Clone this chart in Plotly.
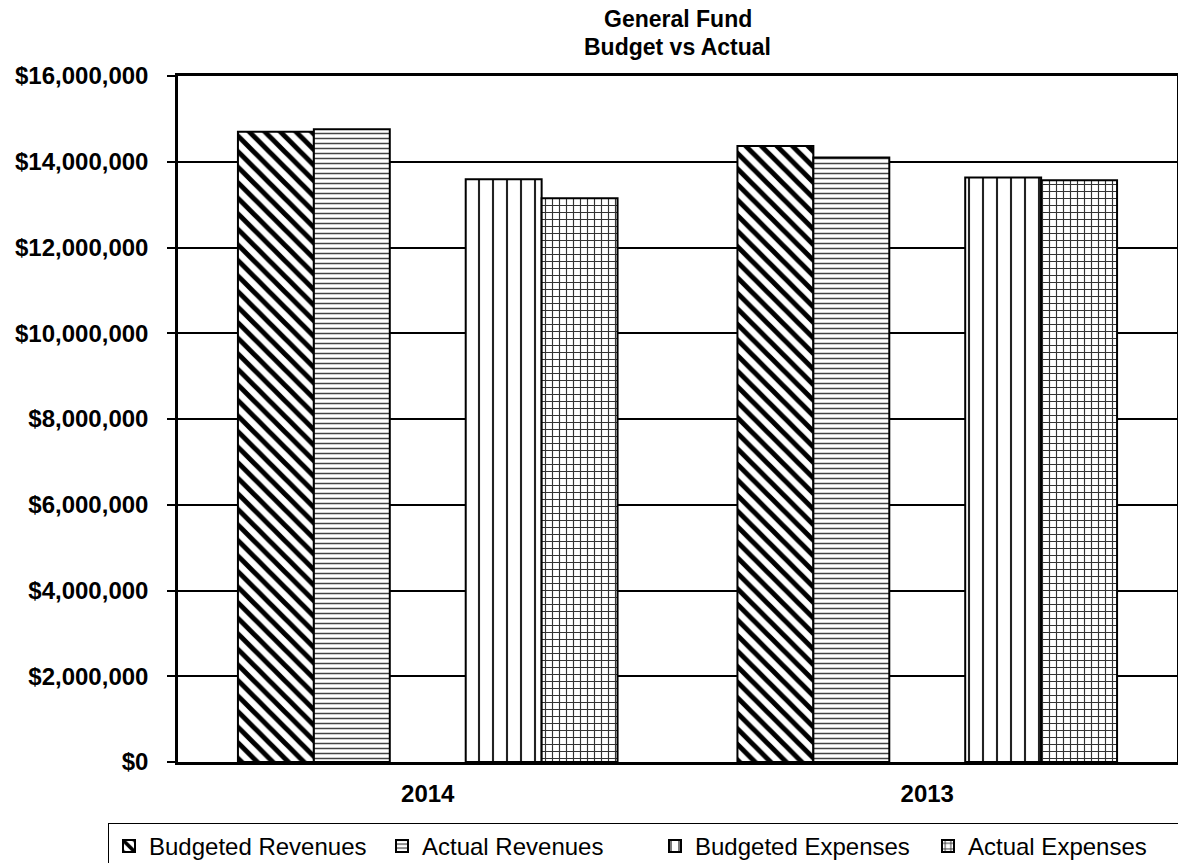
import plotly.graph_objects as go

years = ["2014", "2013"]
budgeted_revenues = [14700000, 14370000]
actual_revenues = [14760000, 14100000]
budgeted_expenses = [13590000, 13630000]
actual_expenses = [13150000, 13570000]
title_lines = ["General Fund", "Budget vs Actual"]

W, H = 1178, 863
L, R, T, B = 178, 1, 76, 101
PW = W - L - R
PH = H - T - B

series = [
    ("Budgeted Revenues", budgeted_revenues, dict(shape="\\", size=11, solidity=0.45, fgcolor="black", bgcolor="white", fillmode="replace")),
    ("Actual Revenues", actual_revenues, dict(shape="-", size=5, solidity=0.3, fgcolor="#444444", bgcolor="white", fillmode="replace")),
    ("", [None, None], None),
    ("Budgeted Expenses", budgeted_expenses, dict(shape="|", size=14, solidity=0.15, fgcolor="#222222", bgcolor="white", fillmode="replace")),
    ("Actual Expenses", actual_expenses, dict(shape="+", size=7, solidity=0.3, fgcolor="#333333", bgcolor="white", fillmode="replace")),
]

fig = go.Figure()
for name, vals, pat in series:
    if pat is None:
        fig.add_trace(go.Bar(x=years, y=vals, name="blank", showlegend=False,
                             marker=dict(color="white", line=dict(width=0)), hoverinfo="skip"))
    else:
        fig.add_trace(go.Bar(x=years, y=vals, name=name,
                             marker=dict(color="white", pattern=pat,
                                         line=dict(color="black", width=2))))

def py(pix):
    return (T + PH - pix) / PH

for txt, ypix in zip(title_lines, [19, 47]):
    fig.add_annotation(text=f"<b>{txt}</b>", xref="paper", yref="paper",
                       x=0.5, y=py(ypix), xanchor="center", yanchor="middle",
                       showarrow=False, font=dict(size=23, color="black"))

fig.update_layout(
    width=W, height=H,
    margin=dict(l=L, r=R, t=T, b=B, autoexpand=False),
    paper_bgcolor="white", plot_bgcolor="white",
    barmode="group", bargap=0.24, bargroupgap=0,
    font=dict(family="Liberation Sans, Arial, sans-serif", color="black"),
    legend=dict(orientation="h", x=(108 - L) / PW, xanchor="left",
                y=py(823), yanchor="top",
                bordercolor="black", borderwidth=1,
                entrywidth=228, entrywidthmode="pixels",
                font=dict(size=24, color="black"), traceorder="normal"),
    xaxis=dict(showline=True, linecolor="black", linewidth=3, mirror=True,
               ticks="", tickfont=dict(size=24, color="black", weight="bold"),
               ticklabelstandoff=8),
    yaxis=dict(range=[0, 16000000], dtick=2000000, tickformat="$,.0f",
               showgrid=True, gridcolor="black", gridwidth=1.5,
               showline=True, linecolor="black", linewidth=2.5, mirror=True,
               ticks="outside", ticklen=8, tickcolor="black", tickwidth=1.5,
               tickfont=dict(size=24, color="black", weight="bold"),
               ticklabelstandoff=14, zeroline=False),
)

fig.write_html("out.html")
